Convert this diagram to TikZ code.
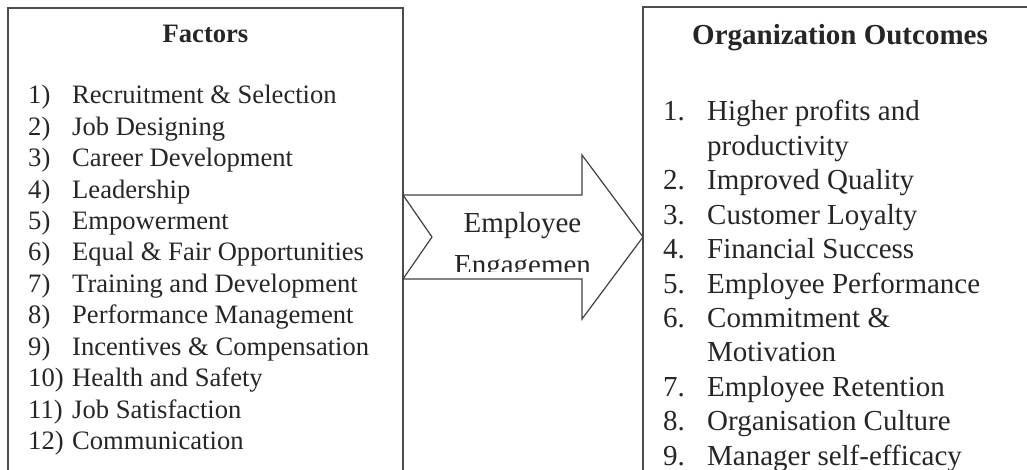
\documentclass[tikz,border=0pt]{standalone}
\usepackage{fontspec}
\setmainfont{Liberation Serif}
\usepackage{tikz}
\usetikzlibrary{positioning}
\tikzstyle{fBox} = [rectangle, draw=black!70, line width=1.6pt, anchor=north west, inner sep=0pt, outer sep=0pt]
\tikzstyle{fHead} = [anchor=base, inner sep=0pt, text=black!85]
\tikzstyle{fLeft} = [anchor=base west, inner sep=0pt, text=black!85, font=\fontsize{26.6}{31}\selectfont]
\tikzstyle{fRight} = [anchor=base west, inner sep=0pt, text=black!85, font=\fontsize{29}{34}\selectfont]
\tikzstyle{fBlock} = [draw=black!75, line width=1.2pt, line join=miter]
\newcommand{\fNum}[1]{\makebox[44pt][l]{#1}}

\begin{document}
\begin{tikzpicture}[x=1pt, y=-1pt]
    \useasboundingbox (0,0) rectangle (1027,470);
    \clip (0,0) rectangle (1027,470);

    % the two boxes run on past the bottom edge
    \node (factors) [fBox, minimum width=395pt, minimum height=520pt] at (8,8) {};
    \node (outcomes) [fBox, minimum width=410pt, minimum height=520pt] at (643,7) {};

    \node (facthead) [fHead, font=\bfseries\fontsize{26.6}{31}\selectfont] at (205.5,43) {Factors};
    \node (recruit) [fLeft] at (28,104) {\fNum{1)}Recruitment \& Selection};
    \node (jobdesign) [below=31.4pt of recruit.base west, fLeft] {\fNum{2)}Job Designing};
    \node (career) [below=31.4pt of jobdesign.base west, fLeft] {\fNum{3)}Career Development};
    \node (leader) [below=31.4pt of career.base west, fLeft] {\fNum{4)}Leadership};
    \node (empower) [below=31.4pt of leader.base west, fLeft] {\fNum{5)}Empowerment};
    \node (equal) [below=31.4pt of empower.base west, fLeft] {\fNum{6)}Equal \& Fair Opportunities};
    \node (training) [below=31.4pt of equal.base west, fLeft] {\fNum{7)}Training and Development};
    \node (perfmgmt) [below=31.4pt of training.base west, fLeft] {\fNum{8)}Performance Management};
    \node (incent) [below=31.4pt of perfmgmt.base west, fLeft] {\fNum{9)}Incentives \& Compensation};
    \node (health) [below=31.4pt of incent.base west, fLeft] {\fNum{10)}Health and Safety};
    \node (jobsat) [below=31.4pt of health.base west, fLeft] {\fNum{11)}Job Satisfaction};
    \node (comm) [below=31.4pt of jobsat.base west, fLeft] {\fNum{12)}Communication};

    \node (outhead) [fHead, font=\bfseries\fontsize{29}{34}\selectfont] at (840,45) {Organization Outcomes};
    \node (profits) [fRight] at (663,121) {\fNum{1.}Higher profits and};
    \node (profits2) [below=34.4pt of profits.base west, fRight] {\fNum{}productivity};
    \node (quality) [below=34.4pt of profits2.base west, fRight] {\fNum{2.}Improved Quality};
    \node (loyalty) [below=34.4pt of quality.base west, fRight] {\fNum{3.}Customer Loyalty};
    \node (finance) [below=34.4pt of loyalty.base west, fRight] {\fNum{4.}Financial Success};
    \node (emperf) [below=34.4pt of finance.base west, fRight] {\fNum{5.}Employee Performance};
    \node (commit) [below=34.4pt of emperf.base west, fRight] {\fNum{6.}Commitment \&};
    \node (commit2) [below=34.4pt of commit.base west, fRight] {\fNum{}Motivation};
    \node (retention) [below=34.4pt of commit2.base west, fRight] {\fNum{7.}Employee Retention};
    \node (culture) [below=34.4pt of retention.base west, fRight] {\fNum{8.}Organisation Culture};
    \node (efficacy) [below=34.4pt of culture.base west, fRight] {\fNum{9.}Manager self-efficacy};

    % block arrow with notched tail
    \draw [fBlock] (403,195) -- (582,195) -- (582,155) -- (643,237) -- (582,319)
        -- (582,279) -- (403,279) -- (432,237) -- cycle;
    \begin{scope}
        \clip (440,190) rectangle (610,271);
        \node (employee) [fHead, font=\fontsize{29}{34}\selectfont] at (522.5,233) {Employee};
        \node (engage) [below=41pt of employee.base, fHead, font=\fontsize{29}{34}\selectfont] {Engagemen};
    \end{scope}
\end{tikzpicture}
\end{document}
